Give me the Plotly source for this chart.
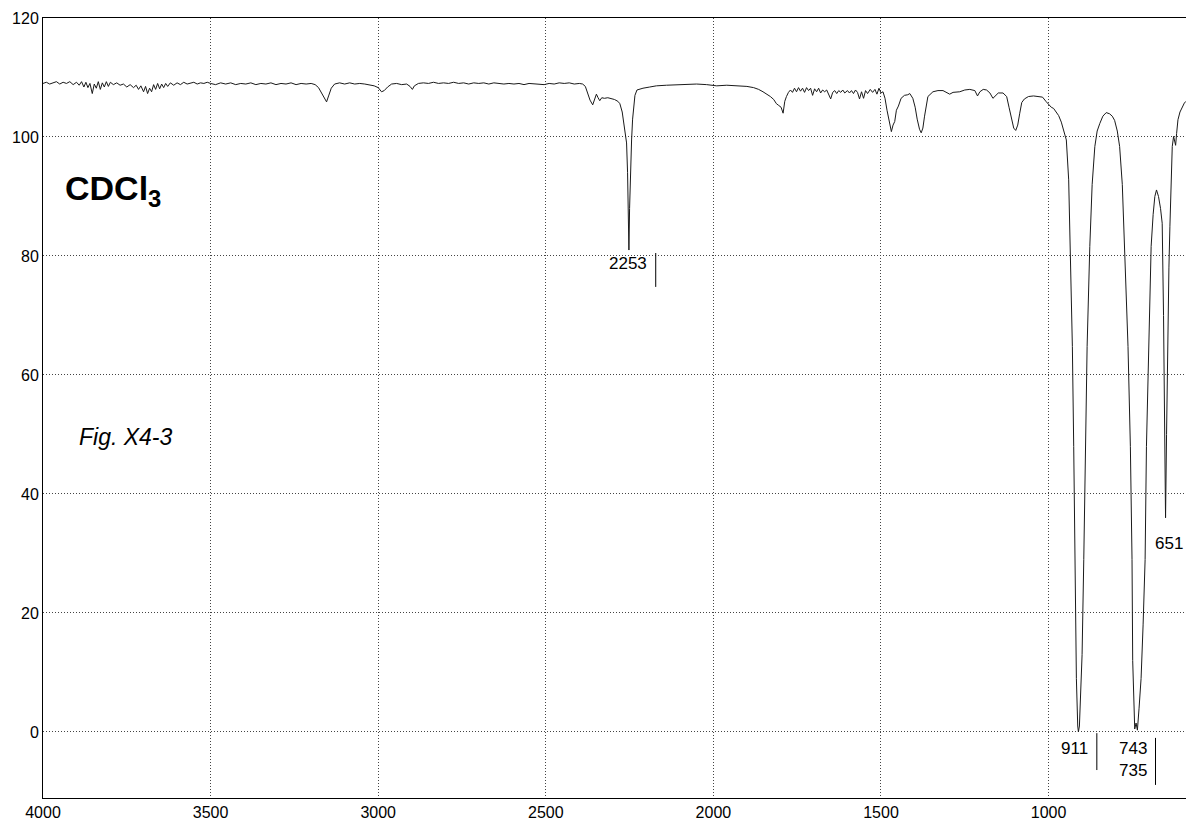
import plotly.graph_objects as go

# ---------------- data ----------------
# 4000-3500 cm-1 noisy baseline
wn_a = [4000, 3990, 3980, 3970, 3960, 3950, 3940, 3930, 3920, 3910, 3900, 3892, 3885, 3878, 3872,
        3866, 3860, 3853, 3847, 3841, 3835, 3829, 3823, 3817, 3811, 3805, 3799, 3790, 3780, 3770,
        3760, 3750, 3740, 3730, 3722, 3715, 3708, 3700, 3694, 3688, 3682, 3676, 3670, 3664, 3658,
        3652, 3646, 3640, 3634, 3628, 3620, 3610, 3600, 3590, 3580, 3570, 3560, 3550, 3540, 3530,
        3520, 3510]
t_a = [109.0, 109.2, 108.9, 109.1, 109.3, 108.9, 109.2, 109.0, 109.3, 108.8, 109.2, 108.7, 109.3, 108.4, 109.2,
       108.3, 109.0, 107.3, 108.9, 108.2, 109.3, 108.0, 109.1, 108.4, 109.3, 108.5, 109.2, 108.8, 109.1, 108.7,
       108.9, 108.4, 108.8, 108.3, 108.7, 108.0, 108.6, 107.6, 108.5, 107.3, 108.2, 107.6, 108.8, 108.0, 109.0,
       108.1, 108.9, 108.3, 109.0, 108.5, 109.1, 108.7, 109.1, 108.8, 109.2, 108.9, 109.0, 109.2, 108.9, 109.1,
       109.0, 109.2]

# 3500-2228 cm-1 (3153, 2990, 2900, 2360 and 2253 bands)
wn_b = [3500, 3485, 3470, 3455, 3440, 3425, 3410, 3395, 3380, 3365, 3350, 3335, 3320, 3305, 3290,
        3275, 3260, 3245, 3230, 3215, 3200, 3188, 3178, 3168, 3160, 3154, 3148, 3140, 3130, 3115,
        3100, 3085, 3070, 3055, 3040, 3025, 3012, 3000, 2990, 2982, 2972, 2960, 2945, 2930, 2915,
        2905, 2898, 2892, 2880, 2865, 2850, 2835, 2820, 2805, 2790, 2775, 2760, 2745, 2730, 2715,
        2700, 2685, 2670, 2655, 2640, 2625, 2610, 2595, 2580, 2565, 2550, 2535, 2520, 2505, 2490,
        2475, 2460, 2445, 2430, 2415, 2400, 2390, 2382, 2375, 2368, 2360, 2355, 2349, 2344, 2339,
        2333, 2325, 2315, 2305, 2295, 2285, 2279, 2272, 2266, 2262, 2259, 2256, 2254, 2252, 2250,
        2247, 2244, 2241, 2238, 2234, 2228]
t_b = [109.0, 108.8, 109.1, 108.9, 109.1, 108.8, 109.0, 108.9, 109.1, 108.8, 109.0, 108.9, 109.1, 108.8, 109.0,
       108.9, 109.1, 108.8, 109.0, 108.9, 109.0, 108.8, 108.3, 107.3, 106.4, 105.9, 106.9, 108.2, 108.9, 109.1,
       108.9, 109.1, 108.9, 109.0, 108.9, 108.8, 108.6, 108.3, 107.6, 107.8, 108.4, 108.9, 109.0, 108.8, 108.9,
       108.5, 108.0, 108.6, 109.0, 109.1, 109.0, 109.2, 109.0, 109.1, 109.0, 109.2, 109.0, 109.1, 108.9, 109.1,
       109.0, 109.1, 108.9, 109.1, 109.0, 108.9, 109.0, 108.9, 109.0, 108.8, 109.0, 108.9, 108.9, 108.8, 109.0,
       108.9, 109.1, 109.0, 109.1, 108.9, 109.0, 108.9, 108.5, 107.4, 106.2, 105.4, 106.2, 107.2, 106.6, 106.1,
       106.6, 106.5, 106.6, 106.5, 106.3, 106.0, 105.6, 104.2, 102.0, 100.5, 99.0, 94.0, 87.0, 81.0, 88.0,
       95.0, 99.5, 103.0, 105.5, 107.0, 107.9]

# 2228-1500 cm-1 (flat region, 1792 band, noisy 1750-1500)
wn_c = [2210, 2190, 2170, 2140, 2110, 2080, 2050, 2020, 1990, 1960, 1930, 1900, 1880, 1865, 1852,
        1840, 1830, 1820, 1812, 1805, 1798, 1792, 1787, 1782, 1776, 1770, 1764, 1758, 1752, 1746,
        1740, 1734, 1728, 1722, 1716, 1710, 1704, 1698, 1692, 1686, 1680, 1674, 1668, 1662, 1656,
        1650, 1644, 1638, 1632, 1626, 1620, 1614, 1608, 1600, 1594, 1588, 1582, 1576, 1570, 1564,
        1558, 1552, 1546, 1540, 1532, 1525, 1518, 1512, 1506, 1500]
t_c = [108.2, 108.4, 108.6, 108.7, 108.8, 108.8, 108.9, 108.8, 108.6, 108.7, 108.6, 108.5, 108.3, 108.0, 107.6,
       107.2, 106.8, 106.3, 105.6, 105.3, 105.0, 104.0, 106.0, 106.8, 107.5, 107.9, 107.5, 108.2, 107.6, 108.3,
       107.7, 108.2, 107.5, 108.3, 107.8, 108.2, 107.0, 108.1, 107.6, 108.2, 107.4, 107.9, 107.6, 107.9, 107.2,
       106.4, 107.5, 107.8, 107.3, 107.8, 107.5, 107.9, 107.4, 107.8, 107.4, 107.8, 107.3, 107.9, 107.5, 106.4,
       107.6, 106.5, 107.8, 107.3, 108.0, 107.5, 108.0, 107.2, 108.2, 107.4]

# 1500-950 cm-1 (1469, 1380, 1100 bands)
wn_d = [1494, 1488, 1482, 1476, 1469, 1464, 1459, 1454, 1448, 1440, 1430, 1420, 1414, 1405, 1398,
        1392, 1385, 1380, 1375, 1370, 1365, 1360, 1345, 1330, 1315, 1305, 1295, 1285, 1265, 1250,
        1235, 1220, 1212, 1205, 1195, 1185, 1175, 1166, 1158, 1150, 1136, 1125, 1118, 1110, 1104,
        1098, 1092, 1086, 1080, 1072, 1060, 1045, 1030, 1018, 1008, 1000, 992, 985, 977, 970,
        962, 955]
t_d = [107.6, 106.5, 104.5, 102.5, 100.9, 102.0, 102.6, 104.5, 105.2, 106.5, 107.0, 107.1, 107.3, 106.5, 105.0,
       103.0, 101.3, 100.7, 101.5, 103.5, 105.5, 106.8, 107.6, 107.8, 107.8, 107.5, 107.2, 107.5, 107.6, 107.9,
       108.0, 107.8, 106.9, 107.6, 108.0, 107.9, 107.4, 106.5, 107.0, 107.4, 107.4, 106.8, 105.0, 102.8, 101.5,
       101.1, 102.0, 104.0, 105.8, 106.4, 106.8, 106.9, 106.8, 106.7, 106.0, 105.4, 105.0, 104.8, 104.2, 103.6,
       102.5, 101.2]

# 950-590 cm-1 (911, 743/735, 651 bands)
wn_e = [947, 940, 935, 929, 925, 921, 917, 913, 911, 908, 903, 900, 895, 889, 885,
        877, 870, 862, 855, 847, 838, 828, 818, 810, 803, 795, 788, 780, 773, 763,
        756, 751, 749, 746, 743, 739, 735, 730, 724, 718, 712, 708, 704, 699, 694,
        688, 683, 678, 672, 666, 661, 657, 654, 651, 648, 645, 641, 638, 634, 631,
        627, 624, 621, 618, 614, 608, 601, 595, 590]
t_e = [99.5, 92.8, 81.6, 64.8, 48.0, 29.0, 9.0, 1.0, 0.0, 1.0, 8.0, 13.0, 29.0, 48.0, 64.8,
       81.6, 92.0, 98.4, 101.0, 102.3, 103.5, 104.1, 103.9, 103.5, 102.8, 101.0, 98.4, 92.0, 81.6, 64.8,
       48.0, 29.0, 12.0, 3.0, 0.5, 1.5, 0.3, 4.0, 9.0, 18.0, 29.0, 48.0, 59.0, 73.0, 81.6,
       87.0, 90.0, 91.1, 90.0, 88.0, 85.5, 70.0, 50.0, 36.0, 50.0, 65.0, 78.0, 85.0, 93.0, 98.4,
       100.1, 99.2, 98.6, 100.6, 102.9, 104.2, 105.1, 105.7, 106.0]

# peak labels
peak_text = ["2253", "911", "743<br>735", "651"]
peak_x = [2255, 922, 749, 640]
peak_y = [78.7, -2.7, -4.6, 31.7]
# bracket marks beside the labels: (wn, top, bottom)
bracket_x = [2172, 856, 681]
bracket_y0 = [80.5, -0.2, -1.0]
bracket_y1 = [74.8, -6.4, -8.9]

x_ticks = [4000, 3500, 3000, 2500, 2000, 1500, 1000]
y_ticks = [0, 20, 40, 60, 80, 100, 120]

wn = wn_a + wn_b + wn_c + wn_d + wn_e
tr = t_a + t_b + t_c + t_d + t_e

FONT = "Liberation Sans, Arial, Helvetica, sans-serif"

fig = go.Figure()
fig.add_trace(go.Scatter(x=wn, y=tr, mode="lines",
                         line=dict(color="#1a1a1a", width=1), showlegend=False,
                         hoverinfo="skip"))

annotations = []
for t, x, y in zip(peak_text, peak_x, peak_y):
    annotations.append(dict(x=x, y=y, xref="x", yref="y", text=t, showarrow=False,
                            font=dict(family=FONT, size=17, color="black"),
                            xanchor="center", yanchor="middle"))
annotations.append(dict(x=3940, y=91.0, xref="x", yref="y", text="<b>CDCl<sub>3</sub></b>",
                        showarrow=False, font=dict(family=FONT, size=34, color="black"),
                        xanchor="left", yanchor="middle"))
annotations.append(dict(x=3899, y=49.6, xref="x", yref="y", text="<i>Fig. X4-3</i>",
                        showarrow=False, font=dict(family=FONT, size=23, color="black"),
                        xanchor="left", yanchor="middle"))

shapes = []
for bx, by0, by1 in zip(bracket_x, bracket_y0, bracket_y1):
    shapes.append(dict(type="line", xref="x", yref="y", x0=bx, x1=bx, y0=by0, y1=by1,
                       line=dict(color="black", width=1)))

fig.update_layout(
    width=1186, height=831,
    margin=dict(l=43, r=0, t=18, b=33, autoexpand=False),
    paper_bgcolor="white", plot_bgcolor="white",
    font=dict(family=FONT, size=16, color="black"),
    annotations=annotations, shapes=shapes,
    xaxis=dict(range=[4000, 590], tickvals=x_ticks, ticktext=[str(v) for v in x_ticks],
               showgrid=True, gridcolor="#444", gridwidth=1, griddash="1px,2px",
               showline=True, linecolor="black", linewidth=1, mirror=True,
               ticks="", ticklen=0, zeroline=False, tickfont=dict(size=16, color="black")),
    yaxis=dict(range=[-11.1, 120], tickvals=y_ticks, ticktext=[str(v) for v in y_ticks],
               showgrid=True, gridcolor="#444", gridwidth=1, griddash="1px,2px",
               showline=True, linecolor="black", linewidth=1, mirror=True,
               ticks="", zeroline=False, tickfont=dict(size=16, color="black")),
)

fig.write_html("out.html",
               config={"displayModeBar": False},
               post_script="document.body.style.margin='0';"
                           "document.body.style.overflow='hidden';")
